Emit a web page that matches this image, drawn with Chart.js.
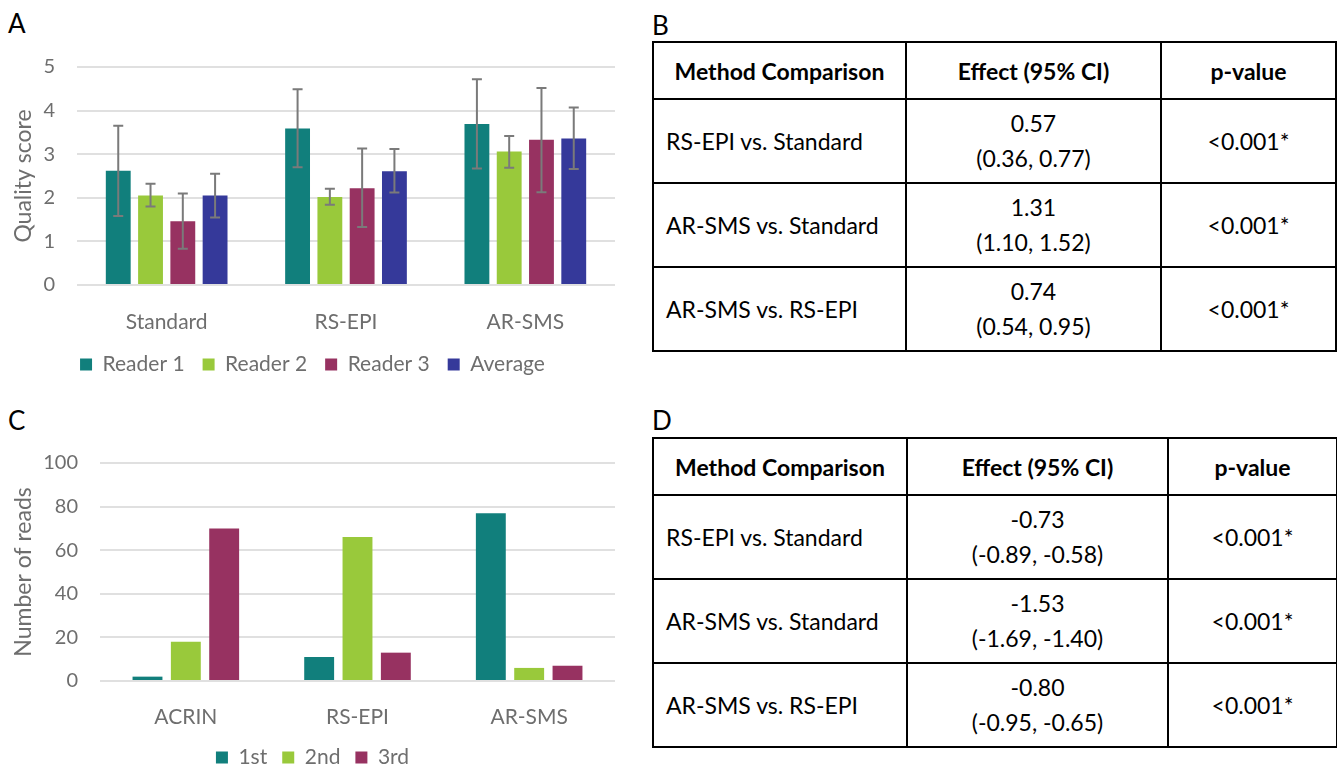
<!DOCTYPE html>
<html>
<head>
<meta charset="utf-8">
<script src="https://cdn.jsdelivr.net/npm/chart.js@4.4.1/dist/chart.umd.min.js"></script>
<style>
body{margin:0;background:#fff;overflow:hidden;font-family:Lato,sans-serif;width:1337px;height:769px;position:relative}
.panel{position:absolute;font-size:26px;line-height:26px;color:#000}
.box{position:absolute;line-height:0}
table{position:absolute;border-collapse:collapse;table-layout:fixed;color:#000;font-family:Lato,sans-serif}
th,td{border:2px solid #000;padding:0 12px;font-size:23px}
th{font-weight:700;font-size:23px;text-align:center}
td{text-align:center;line-height:35px}
td.l{text-align:left}
</style>
</head>
<body>
<div class="panel" style="left:8px;top:10px">A</div>
<div class="panel" style="left:652px;top:12px">B</div>
<div class="panel" style="left:8px;top:407px">C</div>
<div class="panel" style="left:652px;top:407px">D</div>

<div class="box" style="left:0;top:45px"><canvas id="chartA" width="625" height="340"></canvas></div>
<div class="box" style="left:0;top:440px"><canvas id="chartC" width="625" height="338"></canvas></div>

<table id="tabB" style="left:652px;top:41px;width:683px"></table>
<table id="tabD" style="left:652px;top:437px;width:684px"></table>

<script>
// panel A: quality score by method and reader
const methodsA = ["Standard", "RS-EPI", "AR-SMS"];
const seriesNamesA = ["Reader 1", "Reader 2", "Reader 3", "Average"];
const reader1 = [2.62, 3.59, 3.69];
const reader1Low = [1.58, 2.70, 2.67];
const reader1High = [3.65, 4.49, 4.72];
const reader2 = [2.05, 2.02, 3.06];
const reader2Low = [1.80, 1.84, 2.69];
const reader2High = [2.32, 2.21, 3.42];
const reader3 = [1.46, 2.22, 3.33];
const reader3Low = [0.83, 1.33, 2.13];
const reader3High = [2.10, 3.13, 4.52];
const average = [2.05, 2.61, 3.36];
const averageLow = [1.55, 2.12, 2.66];
const averageHigh = [2.55, 3.12, 4.07];
const ticksA = [0, 1, 2, 3, 4, 5];

// panel C: number of reads by rank
const methodsC = ["ACRIN", "RS-EPI", "AR-SMS"];
const rankNames = ["1st", "2nd", "3rd"];
const first = [2, 11, 77];
const second = [18, 66, 6];
const third = [70, 13, 7];
const ticksC = [0, 20, 40, 60, 80, 100];

// tables B and D
const tableHead = ["Method Comparison", "Effect (95% CI)", "p-value"];
const comparisons = ["RS-EPI vs. Standard", "AR-SMS vs. Standard", "AR-SMS vs. RS-EPI"];
const effectB = ["0.57", "1.31", "0.74"];
const ciB = ["(0.36, 0.77)", "(1.10, 1.52)", "(0.54, 0.95)"];
const pB = ["<0.001*", "<0.001*", "<0.001*"];
const effectD = ["-0.73", "-1.53", "-0.80"];
const ciD = ["(-0.89, -0.58)", "(-1.69, -1.40)", "(-0.95, -0.65)"];
const pD = ["<0.001*", "<0.001*", "<0.001*"];

const teal = "#117f7c", lime = "#99c93b", plum = "#973261", navy = "#35399a";
const grey = "#6e6e6e";

function fillTable(id, effect, ci, p, widths){
  const t = document.getElementById(id);
  let html = "<colgroup>" + widths.map(w => '<col style="width:' + w + 'px">').join("") + "</colgroup>";
  html += '<tr style="height:57px">' + tableHead.map(h => "<th>" + h + "</th>").join("") + "</tr>";
  for (let i = 0; i < comparisons.length; i++) {
    html += '<tr style="height:84px"><td class="l">' + comparisons[i] + "</td><td>" +
      effect[i] + "<br>" + ci[i] + "</td><td>" + p[i].replace("<", "&lt;") + "</td></tr>";
  }
  t.innerHTML = html;
}
fillTable("tabB", effectB, ciB, pB, [253, 255, 175]);
fillTable("tabD", effectD, ciD, pD, [254, 261, 169]);

// whiskers drawn from the low/high arrays through the y scale
const errorBars = {
  id: "errorBars",
  afterDatasetsDraw(chart){
    const ctx = chart.ctx, y = chart.scales.y;
    ctx.save();
    ctx.strokeStyle = "#7a7a7a";
    ctx.lineWidth = 2;
    chart.data.datasets.forEach((ds, i) => {
      if (!ds.low) return;
      chart.getDatasetMeta(i).data.forEach((bar, j) => {
        const top = y.getPixelForValue(ds.high[j]);
        const bot = y.getPixelForValue(ds.low[j]);
        ctx.beginPath();
        ctx.moveTo(bar.x, top); ctx.lineTo(bar.x, bot);
        ctx.moveTo(bar.x - 5, top); ctx.lineTo(bar.x + 5, top);
        ctx.moveTo(bar.x - 5, bot); ctx.lineTo(bar.x + 5, bot);
        ctx.stroke();
      });
    });
    ctx.restore();
  }
};

function barOptions(o){
  return {
    responsive: false,
    animation: false,
    layout: {padding: {top: o.padTop, right: 10, left: 10, bottom: 0}},
    categoryPercentage: o.cat,
    barPercentage: o.bar,
    plugins: {
      tooltip: {enabled: false},
      legend: {
        position: "bottom",
        labels: {boxWidth: 12, boxHeight: 12, padding: o.legendPad, color: grey, font: {family: "Lato", size: 21}}
      }
    },
    scales: {
      x: {
        grid: {display: false},
        border: {display: false},
        ticks: {color: grey, padding: o.labelPad, font: {family: "Lato", size: 21}},
        afterFit: s => { s.height = o.xHeight; }
      },
      y: {
        min: o.ticks[0],
        max: o.ticks[o.ticks.length - 1],
        afterBuildTicks: s => { s.ticks = o.ticks.map(v => ({value: v})); },
        grid: {color: "#e0e0e0", lineWidth: 2, drawTicks: false},
        border: {display: false},
        ticks: {color: grey, padding: 22, font: {family: "Lato", size: 20}},
        title: {display: true, text: o.title, color: grey, padding: {top: 0, bottom: 0}, font: {family: "Lato", size: 23}},
        afterFit: s => { s.width = o.yWidth; s.paddingTop = 0; s.paddingBottom = 0; }
      }
    }
  };
}

new Chart(document.getElementById("chartA"), {
  type: "bar",
  data: {
    labels: methodsA,
    datasets: [
      {label: seriesNamesA[0], data: reader1, low: reader1Low, high: reader1High, backgroundColor: teal},
      {label: seriesNamesA[1], data: reader2, low: reader2Low, high: reader2High, backgroundColor: lime},
      {label: seriesNamesA[2], data: reader3, low: reader3Low, high: reader3High, backgroundColor: plum},
      {label: seriesNamesA[3], data: average, low: averageLow, high: averageHigh, backgroundColor: navy}
    ]
  },
  options: barOptions({title: "Quality score", ticks: ticksA, cat: 0.72, bar: 0.77,
    xHeight: 51, padTop: 22, labelPad: 17, legendPad: 18, yWidth: 67}),
  plugins: [errorBars]
});

new Chart(document.getElementById("chartC"), {
  type: "bar",
  data: {
    labels: methodsC,
    datasets: [
      {label: rankNames[0], data: first, backgroundColor: teal},
      {label: rankNames[1], data: second, backgroundColor: lime},
      {label: rankNames[2], data: third, backgroundColor: plum}
    ]
  },
  options: barOptions({title: "Number of reads", ticks: ticksC, cat: 0.67, bar: 0.78,
    xHeight: 51, padTop: 23, labelPad: 16, legendPad: 15, yWidth: 90})
});
</script>
</body>
</html>
